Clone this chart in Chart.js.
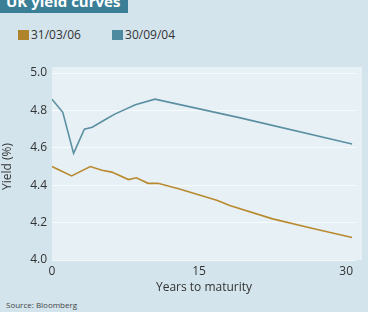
<!DOCTYPE html>
<html>
<head>
<meta charset="utf-8">
<script src="https://cdn.jsdelivr.net/npm/chart.js@4/dist/chart.umd.min.js"></script>
<style>
  body { margin: 0; width: 368px; height: 312px; overflow: hidden; background: #d3e4ed; font-family: "Open Sans", sans-serif; position: relative; }
  #title { position: absolute; left: 0; top: -11px; width: 128px; height: 24px; background: #3b7f97; color: #fff; font-weight: bold; font-size: 15px; line-height: 24px; padding-left: 6px; box-sizing: border-box; overflow: hidden; }
  #legend { position: absolute; left: 18px; top: 26px; font-size: 12px; color: #333; }
  #legend span.sw { display: inline-block; width: 11px; height: 10px; vertical-align: -1px; margin-right: 2px; }
  #legend span.item { margin-right: 28px; }
  #chartBox { position: absolute; left: 0; top: 55px; width: 368px; height: 240px; }
  #source { position: absolute; left: 6px; top: 299px; font-size: 8px; color: #444; }
</style>
</head>
<body>
<div id="title">UK yield curves</div>
<div id="legend">
  <span class="item"><span class="sw" style="background:#b0842c"></span>31/03/06</span>
  <span class="item"><span class="sw" style="background:#4d8aa0"></span>30/09/04</span>
</div>
<div id="chartBox"><canvas id="yieldChart" width="368" height="240"></canvas></div>
<div id="source">Source: Bloomberg</div>
<script>
    // years to maturity / yield (%)
    var maturity2006 = [0, 2, 3.9, 5.1, 6.1, 7.8, 8.6, 9.8, 10.8, 13, 16.8, 18.2, 22.5, 26.5, 30.6];
    var yield2006 = [4.50, 4.45, 4.50, 4.48, 4.47, 4.43, 4.44, 4.41, 4.41, 4.38, 4.32, 4.29, 4.22, 4.17, 4.12];
    var maturity2004 = [0, 1.1, 2.2, 3.3, 4.1, 5.4, 6.4, 8.5, 10.5, 19.2, 30.6];
    var yield2004 = [4.86, 4.79, 4.57, 4.70, 4.71, 4.75, 4.78, 4.83, 4.86, 4.76, 4.62];
    var xTicks = [0, 15, 30];
    var yTicks = [4.0, 4.2, 4.4, 4.6, 4.8, 5.0];

    function toPoints(xs, ys) {
        return xs.map((x, i) => ({x: x, y: ys[i]}));
    }

    var plotBg = {
        id: 'plotBg',
        beforeDraw: function(chart) {
            var a = chart.chartArea, ctx = chart.ctx;
            ctx.save();
            ctx.fillStyle = '#e7f1f5';
            ctx.fillRect(a.left, a.top - 6, a.right - a.left + 6, a.bottom - a.top + 6);
            ctx.restore();
        }
    };

    var ctx = document.getElementById('yieldChart').getContext('2d');
    var yieldChart = new Chart(ctx, {
        type: 'line',
        data: {
            datasets: [
                {
                    label: '31/03/06',
                    data: toPoints(maturity2006, yield2006),
                    borderColor: '#b8892e',
                    borderWidth: 1.6,
                    pointRadius: 0,
                    fill: false,
                    tension: 0
                },
                {
                    label: '30/09/04',
                    data: toPoints(maturity2004, yield2004),
                    borderColor: '#5b8fa2',
                    borderWidth: 1.6,
                    pointRadius: 0,
                    fill: false,
                    tension: 0
                }
            ]
        },
        options: {
            responsive: false,
            animation: false,
            layout: { padding: { top: 18, right: 12, bottom: 0, left: 0 } },
            plugins: { legend: { display: false }, tooltip: { enabled: false } },
            scales: {
                x: {
                    type: 'linear',
                    min: 0,
                    max: 31,
                    afterBuildTicks: function(axis) {
                        axis.ticks = xTicks.map(v => ({value: v}));
                    },
                    afterFit: function(axis) { axis.height = 35; },
                    grid: { display: false, drawTicks: false },
                    border: { display: false },
                    ticks: { color: '#333', font: { family: 'Open Sans', size: 12 }, padding: 4, maxRotation: 0 },
                    title: { display: true, text: 'Years to maturity', color: '#333', font: { family: 'Open Sans', size: 12 }, padding: 0 }
                },
                y: {
                    min: 4.0,
                    max: 5.0,
                    afterBuildTicks: function(axis) {
                        axis.ticks = yTicks.map(v => ({value: v}));
                    },
                    afterFit: function(axis) { axis.width = 52; },
                    grid: { color: 'rgba(255,255,255,0.7)', lineWidth: 1, drawTicks: false },
                    border: { display: false },
                    ticks: {
                        color: '#333',
                        font: { family: 'Open Sans', size: 12 },
                        padding: 5,
                        callback: function(v) { return v.toFixed(1); }
                    },
                    title: { display: true, text: 'Yield (%)', color: '#333', font: { family: 'Open Sans', size: 12 }, padding: 0 }
                }
            }
        },
        plugins: [plotBg]
    });
</script>
</body>
</html>
